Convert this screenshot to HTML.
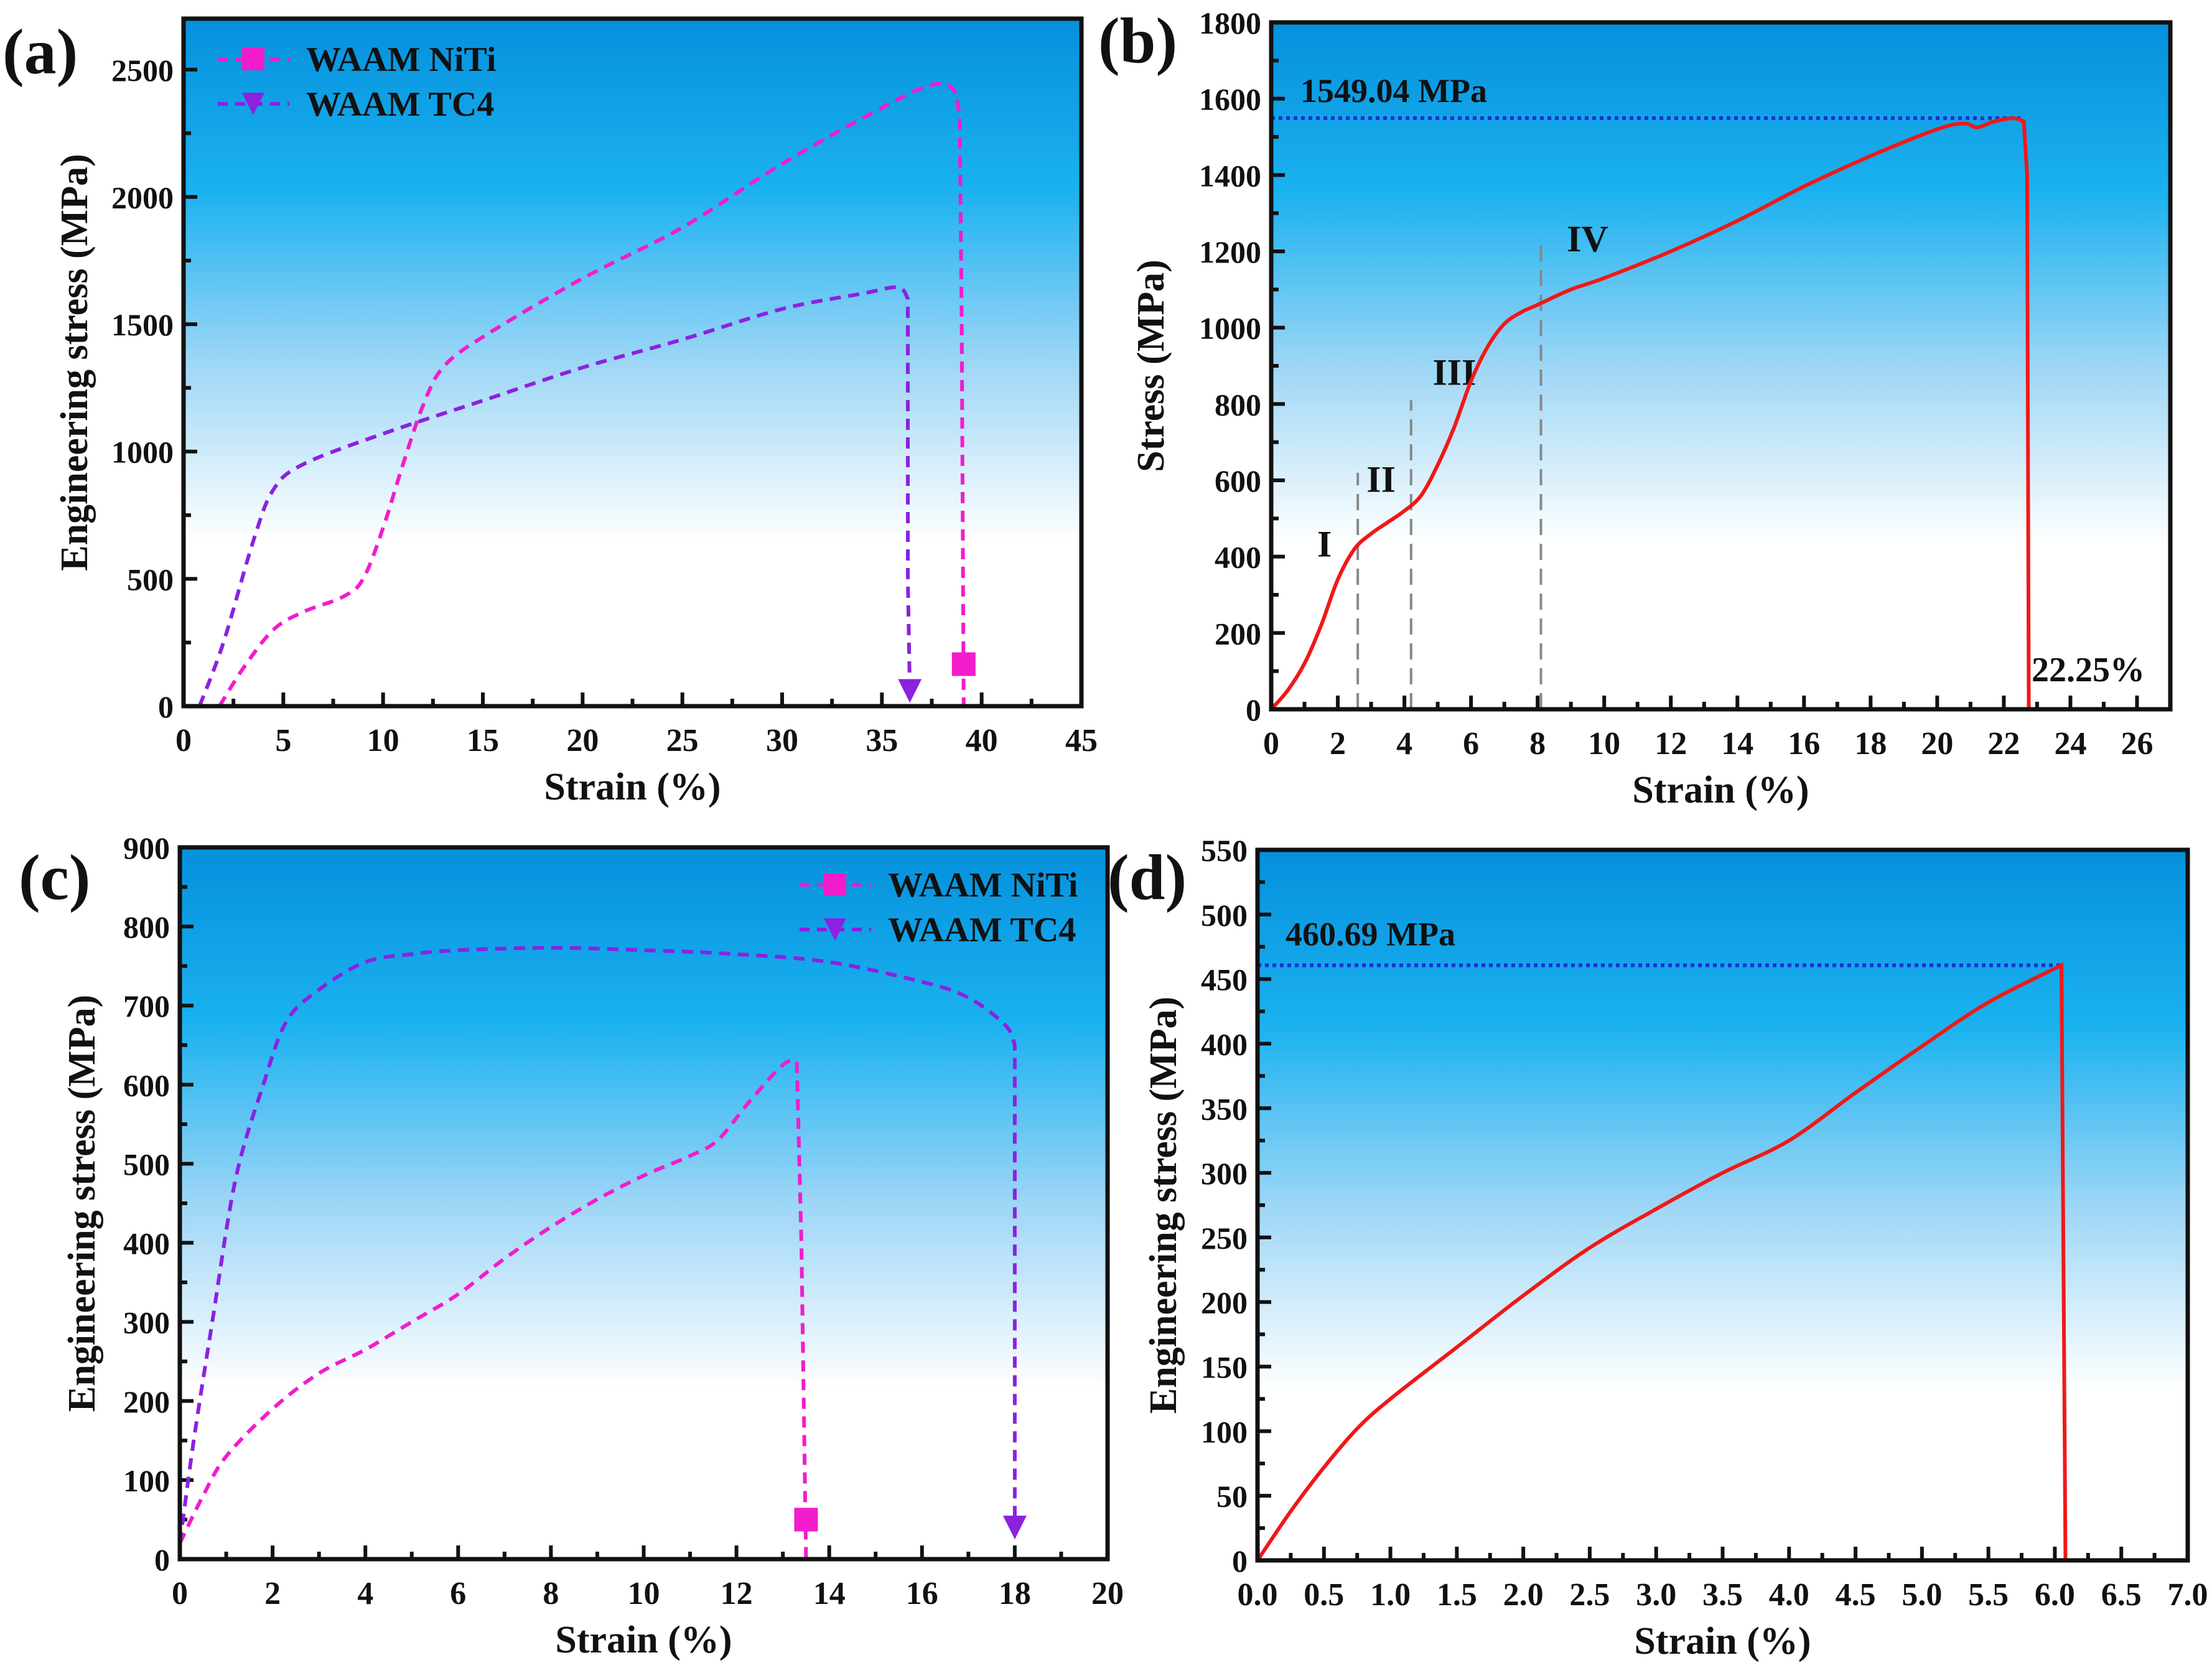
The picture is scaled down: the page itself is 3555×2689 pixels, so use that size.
<!DOCTYPE html>
<html><head><meta charset="utf-8"><style>
html,body{margin:0;padding:0;background:#fff}
svg{display:block}
text{font-family:"Liberation Serif",serif;font-weight:bold;fill:#111}
</style></head><body>
<svg id="fig" width="3555" height="2689" viewBox="0 0 3555 2689" xmlns="http://www.w3.org/2000/svg">
<defs>
<linearGradient id="bg" x1="0" y1="0" x2="0" y2="1">
<stop offset="0" stop-color="#0590dc"/>
<stop offset="0.25" stop-color="#1bb2f0"/>
<stop offset="0.5" stop-color="#9dd6f6"/>
<stop offset="0.76" stop-color="#ffffff"/>
<stop offset="1" stop-color="#ffffff"/>
</linearGradient>
</defs>
</svg>
<script>
// Panel (a)
const aNitiX=[1.8,3,4.5,6,8,9,10,11,12,13,15,20,25,30,35,37.5,38.6,38.9,39,39.1];
const aNitiY=[0,150,300,370,430,500,700,950,1180,1330,1450,1680,1880,2130,2350,2440,2420,2300,1500,0];
const aTc4X=[0.8,2,3.5,4.5,6,10,15,20,25,30,34,35.8,36.3,36.3,36.4];
const aTc4Y=[0,250,650,850,950,1070,1200,1330,1440,1560,1620,1645,1600,500,60];
const aXTicks=[0,5,10,15,20,25,30,35,40,45];
const aYTicks=[0,500,1000,1500,2000,2500];
// Panel (b)
const bX=[0,0.5,1,1.5,2,2.5,3,3.5,4,4.5,5,5.5,6,6.5,7,7.5,8,9,10,12,14,16,18,20,20.8,21.2,21.7,22.3,22.6,22.7,22.75];
const bY=[0,50,120,220,340,420,460,490,520,560,640,740,860,950,1010,1040,1060,1100,1130,1200,1280,1370,1450,1520,1535,1525,1540,1549,1540,1400,0];
const bXTicks=[0,2,4,6,8,10,12,14,16,18,20,22,24,26];
const bYTicks=[0,200,400,600,800,1000,1200,1400,1600,1800];
const bStageX=[2.6,4.2,8.1];
const bStageTop=[620,810,1240];
const bStageLabels=["I","II","III","IV"];
const bStageLabelX=[1.6,3.3,5.5,9.5];
const bStageLabelY=[400,570,850,1200];
const bUts=[1549.04];
// Panel (c)
const cNitiX=[0,0.5,1,2,3,4,5,6,7,8,9,10,11,11.6,12.3,13,13.3,13.4,13.5];
const cNitiY=[20,80,130,190,235,265,300,335,380,420,455,485,510,530,580,625,630,400,0];
const cTc4X=[0,0.3,0.7,1.2,1.8,2.3,3,4,5,6,8,10,12,14,16,17,17.8,18,18,18];
const cTc4Y=[20,150,300,480,600,680,720,755,765,770,773,770,765,755,730,710,675,650,300,40];
const cXTicks=[0,2,4,6,8,10,12,14,16,18,20];
const cYTicks=[0,100,200,300,400,500,600,700,800,900];
// Panel (d)
const dX=[0,0.25,0.5,0.75,1,1.5,2,2.5,3,3.5,4,4.5,5,5.5,6.05,6.08];
const dY=[0,38,72,102,125,165,205,242,272,300,325,362,398,432,460.69,0];
const dXTicks=[0,0.5,1,1.5,2,2.5,3,3.5,4,4.5,5,5.5,6,6.5,7];
const dYTicks=[0,50,100,150,200,250,300,350,400,450,500,550];
const dUts=[460.69];

const NS="http://www.w3.org/2000/svg";
const svg=document.getElementById('fig');
function mk(tag,attrs,parent){const e=document.createElementNS(NS,tag);for(const k in attrs)e.setAttribute(k,attrs[k]);(parent||svg).appendChild(e);return e;}
function txt(s,attrs,parent){const e=mk('text',attrs,parent);e.textContent=s;return e;}

function panel(o){
  const g=mk('g',{});
  
  
  const sx=v=>o.L+(v-o.x0)/(o.x1-o.x0)*(o.R-o.L);
  const sy=v=>o.B-(v-o.y0)/(o.y1-o.y0)*(o.B-o.T);
  const bg=mk('rect',{x:o.L,y:o.T,width:o.R-o.L,height:o.B-o.T,fill:'url(#bg)'},g);
  
  
  const xt=o.xt, yt=o.yt;
  const xg=mk('g',{},g);
  
  
  xt.forEach((v,i)=>{
    const x=sx(v);
    mk('line',{x1:x,y1:o.B,x2:x,y2:o.B-22,stroke:'#111','stroke-width':6},xg);
    if(i<xt.length-1){const xm=sx((v+xt[i+1])/2);mk('line',{x1:xm,y1:o.B,x2:xm,y2:o.B-12,stroke:'#111','stroke-width':6},xg);}
    const t=txt(o.xl?o.xl[i]:String(v),{x:x,y:o.B+72,'font-size':52,'text-anchor':'middle'},xg);
    
    
  });
  const yg=mk('g',{},g);
  
  
  yt.forEach((v,i)=>{
    const y=sy(v);
    mk('line',{x1:o.L,y1:y,x2:o.L+22,y2:y,stroke:'#111','stroke-width':6},yg);
    if(i<yt.length-1){const ym=sy((v+yt[i+1])/2);mk('line',{x1:o.L,y1:ym,x2:o.L+12,y2:ym,stroke:'#111','stroke-width':6},yg);}
    const t=txt(String(v),{x:o.L-16,y:y+18,'font-size':50,'text-anchor':'end'},yg);
    
    
  });
  const xtit=txt('Strain (%)',{x:(o.L+o.R)/2,y:o.B+150,'font-size':62,'text-anchor':'middle'},g);
  
  
  const cy=(o.T+o.B)/2;
  const ytit=txt(o.ytitle,{x:o.ytx,y:cy,'font-size':62,'text-anchor':'middle',transform:`rotate(-90 ${o.ytx} ${cy})`},g);
  
  
  const pl=txt(o.label,{x:o.plx,y:o.ply,'font-size':104},g);
  
  
  return {g,sx,sy};
}
// smooth through first nS points, then straight segments
function smoothPath(xs,ys,sx,sy,nS){
  const all=xs.map((x,i)=>[sx(x),sy(ys[i])]);
  const n=Math.min(nS||all.length,all.length);
  const p=all.slice(0,n);
  let d=`M${p[0][0]},${p[0][1]}`;
  for(let i=0;i<p.length-1;i++){
    const p0=p[i-1]||p[i],p1=p[i],p2=p[i+1],p3=p[i+2]||p2;
    const c1=[p1[0]+(p2[0]-p0[0])/6,p1[1]+(p2[1]-p0[1])/6];
    const c2=[p2[0]-(p3[0]-p1[0])/6,p2[1]-(p3[1]-p1[1])/6];
    d+=` C${c1[0]},${c1[1]} ${c2[0]},${c2[1]} ${p2[0]},${p2[1]}`;
  }
  for(let i=n;i<all.length;i++)d+=` L${all[i][0]},${all[i][1]}`;
  return d;
}
function frame(o,g){mk('rect',{x:o.L,y:o.T,width:o.R-o.L,height:o.B-o.T,fill:'none',stroke:'#111','stroke-width':7},g);}
function square(g,x,y,s,c){return mk('rect',{x:x-s/2,y:y-s/2,width:s,height:s,fill:c},g);}
function tri(g,x,y,s,c){return mk('polygon',{points:`${x-s/2},${y-s/2} ${x+s/2},${y-s/2} ${x},${y+s/2}`,fill:c},g);}
const MAG='#f21ccc', PUR='#8a22e0';

// ---- (a)
const oa={name:'panel-a',L:295,R:1738,T:30,B:1135,x0:0,x1:45,y0:0,y1:2700,xt:aXTicks,yt:aYTicks,ytitle:'Engineering stress (MPa)',ytx:140,label:'(a)',plx:4,ply:118};
const pa=panel(oa);
let e=mk('path',{d:smoothPath(aNitiX,aNitiY,pa.sx,pa.sy,18),fill:'none',stroke:MAG,'stroke-width':6,'stroke-dasharray':'18 12'},pa.g);


e=mk('path',{d:smoothPath(aTc4X,aTc4Y,pa.sx,pa.sy,13),fill:'none',stroke:PUR,'stroke-width':6,'stroke-dasharray':'18 12'},pa.g);


e=square(pa.g,pa.sx(aNitiX[aNitiX.length-1]),pa.sy(165),38,MAG);


e=tri(pa.g,pa.sx(aTc4X[aTc4X.length-1]),pa.sy(60),38,PUR);


function legend(g,x,y){
  const lg=mk('g',{},g);
  
  
  [['WAAM NiTi',MAG,'s'],['WAAM TC4',PUR,'t']].forEach((it,i)=>{
    const yy=y+i*72;
    const en=mk('g',{},lg);
    
    
    mk('line',{x1:x,y1:yy,x2:x+115,y2:yy,stroke:it[1],'stroke-width':6,'stroke-dasharray':'16 12'},en);
    if(it[2]==='s')square(en,x+57,yy,36,it[1]);else tri(en,x+57,yy,36,it[1]);
    txt(it[0],{x:x+142,y:yy+19,'font-size':56},en);
  });
}
legend(pa.g,350,95);
frame(oa,pa.g);

// ---- (b)
const ob={name:'panel-b',L:2043,R:3488,T:36,B:1140,x0:0,x1:27,y0:0,y1:1800,xt:bXTicks,yt:bYTicks,ytitle:'Stress (MPa)',ytx:1870,label:'(b)',plx:1765,ply:100};
const pb=panel(ob);
bStageX.forEach((v,i)=>{
  const l=mk('line',{x1:pb.sx(v),y1:ob.B,x2:pb.sx(v),y2:pb.sy(bStageTop[i]),stroke:'#888','stroke-width':4,'stroke-dasharray':'26 14'},pb.g);
  
  
});
bStageLabels.forEach((s,i)=>{
  const t=txt(s,{x:pb.sx(bStageLabelX[i]),y:pb.sy(bStageLabelY[i]),'font-size':60,'font-weight':'normal','text-anchor':'middle'},pb.g);
  
  
});
e=mk('line',{x1:ob.L,y1:pb.sy(bUts[0]),x2:pb.sx(22.5),y2:pb.sy(bUts[0]),stroke:'#1b2fd0','stroke-width':6,'stroke-dasharray':'6 6'},pb.g);


e=txt(bUts[0].toFixed(2)+' MPa',{x:2090,y:pb.sy(bUts[0])-26,'font-size':54},pb.g);


e=mk('path',{d:smoothPath(bX,bY,pb.sx,pb.sy,29),fill:'none',stroke:'#f01818','stroke-width':6},pb.g);


e=txt('22.25%',{x:3265,y:1095,'font-size':56},pb.g);


frame(ob,pb.g);

// ---- (c)
const oc={name:'panel-c',L:289,R:1780,T:1362,B:2506,x0:0,x1:20,y0:0,y1:900,xt:cXTicks,yt:cYTicks,ytitle:'Engineering stress (MPa)',ytx:152,label:'(c)',plx:30,ply:1445};
const pc=panel(oc);
e=mk('path',{d:smoothPath(cNitiX,cNitiY,pc.sx,pc.sy,17),fill:'none',stroke:MAG,'stroke-width':6,'stroke-dasharray':'18 12'},pc.g);


e=mk('path',{d:smoothPath(cTc4X,cTc4Y,pc.sx,pc.sy,18),fill:'none',stroke:PUR,'stroke-width':6,'stroke-dasharray':'18 12'},pc.g);


e=square(pc.g,pc.sx(13.5),pc.sy(50),38,MAG);


e=tri(pc.g,pc.sx(18),pc.sy(40),38,PUR);


legend(pc.g,1285,1422);
frame(oc,pc.g);

// ---- (d)
const od={name:'panel-d',L:2021,R:3516,T:1366,B:2508,x0:0,x1:7,y0:0,y1:550,xt:dXTicks,yt:dYTicks,xl:dXTicks.map(v=>v.toFixed(1)),ytitle:'Engineering stress (MPa)',ytx:1890,label:'(d)',plx:1780,ply:1445};
const pd=panel(od);
e=mk('line',{x1:od.L,y1:pd.sy(dUts[0]),x2:pd.sx(6.05),y2:pd.sy(dUts[0]),stroke:'#1b2fd0','stroke-width':6,'stroke-dasharray':'6 6'},pd.g);


e=txt(dUts[0].toFixed(2)+' MPa',{x:2066,y:pd.sy(dUts[0])-32,'font-size':54},pd.g);


e=mk('path',{d:smoothPath(dX,dY,pd.sx,pd.sy,15),fill:'none',stroke:'#f01818','stroke-width':6},pd.g);


frame(od,pd.g);
</script>
</body></html>
